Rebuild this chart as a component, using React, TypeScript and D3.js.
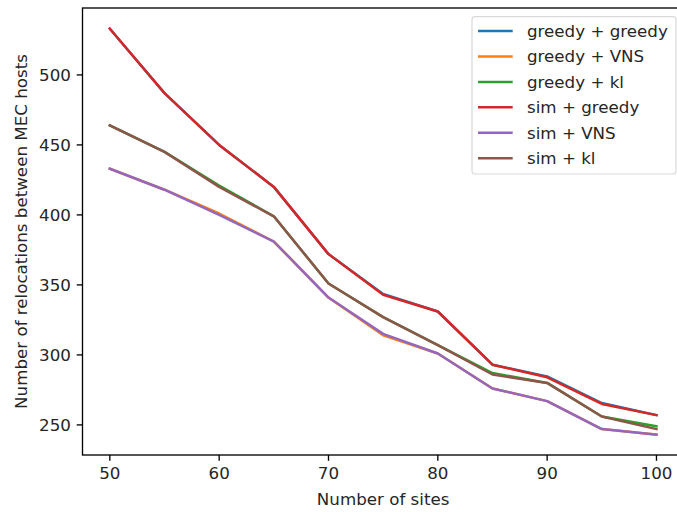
import React from "react";
import * as d3 from "d3";

const sites = [50, 55, 60, 65, 70, 75, 80, 85, 90, 95, 100];
const greedyGreedy = [533, 487, 450, 420, 372, 343.5, 331, 293, 284.6, 265.6, 257];
const greedyVNS = [433, 418, 401, 381, 341, 314, 301, 276, 267, 247, 243];
const greedyKl = [464, 445, 421, 399, 351, 327, 307, 287, 280, 256, 249];
const simGreedy = [533, 487, 450, 420, 372, 343, 331, 293, 284, 265, 257];
const simVNS = [433, 418, 400, 381, 341, 315, 301, 276, 267, 247, 243];
const simKl = [464, 445, 420, 399, 351, 327, 307, 286, 280, 256, 247];

const seriesNames = ["greedy + greedy", "greedy + VNS", "greedy + kl", "sim + greedy", "sim + VNS", "sim + kl"];
const seriesValues = [greedyGreedy, greedyVNS, greedyKl, simGreedy, simVNS, simKl];
const colors = ["#1f77b4", "#ff7f0e", "#2ca02c", "#d62728", "#9467bd", "#8c564b"];
const xTicks = [50, 60, 70, 80, 90, 100];
const yTicks = [250, 300, 350, 400, 450, 500];

const W = 677, H = 512;
const left = 82.5, right = 683.8, top = 8, bottom = 455;
const font = "DejaVu Sans, sans-serif";
const fs = 16.7;
const tickLen = 5.8;

export default function App() {
  const x = d3.scaleLinear().domain([47.5, 102.5]).range([left, right]);
  const y = d3.scaleLinear().domain([228.5, 547.8]).range([bottom, top]);
  const line = d3.line<number>().x((_, i) => x(sites[i])).y((d) => y(d));

  return (
    <svg width={W} height={H} style={{ position: "absolute", left: 0, top: 0, background: "#fff" }}>
      <rect x={0} y={0} width={W} height={H} fill="#fff" />
      {seriesValues.map((vals, i) => (
        <path key={i} d={line(vals) || ""} fill="none" stroke={colors[i]} strokeWidth={2.5} strokeLinejoin="round" strokeLinecap="square" />
      ))}
      <rect x={left} y={top} width={right - left} height={bottom - top} fill="none" stroke="#000" strokeWidth={1.33} />
      {xTicks.map((t) => (
        <g key={t}>
          <line x1={x(t)} x2={x(t)} y1={bottom} y2={bottom + tickLen} stroke="#000" strokeWidth={1.33} />
          <text x={x(t)} y={479} textAnchor="middle" fontFamily={font} fontSize={fs} fill="#262626">{t}</text>
        </g>
      ))}
      {yTicks.map((t) => (
        <g key={t}>
          <line x1={left - tickLen} x2={left} y1={y(t)} y2={y(t)} stroke="#000" strokeWidth={1.33} />
          <text x={left - 2 * tickLen} y={y(t)} dy="0.36em" textAnchor="end" fontFamily={font} fontSize={fs} fill="#262626">{t}</text>
        </g>
      ))}
      <text x={(left + right) / 2} y={505} textAnchor="middle" fontFamily={font} fontSize={fs} fill="#262626">Number of sites</text>
      <text transform={`translate(27, ${(top + bottom) / 2}) rotate(-90)`} textAnchor="middle" fontFamily={font} fontSize={fs} fill="#262626">Number of relocations between MEC hosts</text>
      <rect x={472} y={16.7} width={204} height={157.3} rx={3} fill="#fff" fillOpacity={0.8} stroke="#d9d9d9" strokeWidth={1.2} />
      {seriesNames.map((n, i) => {
        const ly = 31 + i * 25.45;
        return (
          <g key={n}>
            <line x1={478} x2={512.7} y1={ly} y2={ly} stroke={colors[i]} strokeWidth={2.5} />
            <text x={527} y={ly} dy="0.36em" fontFamily={font} fontSize={fs} fill="#262626">{n}</text>
          </g>
        );
      })}
    </svg>
  );
}
